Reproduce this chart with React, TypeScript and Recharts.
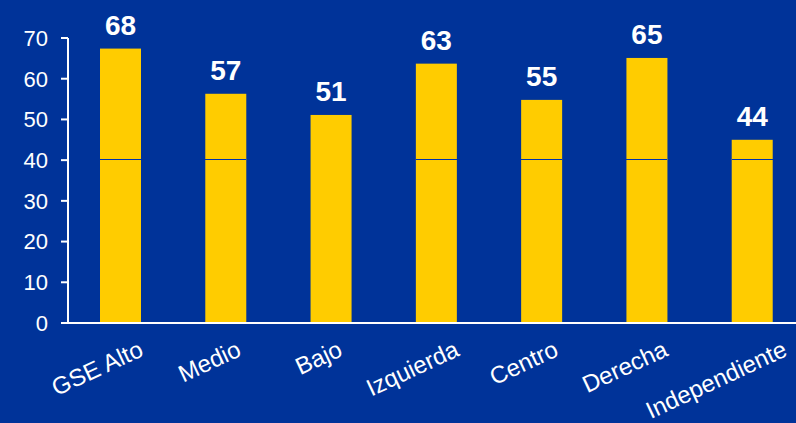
import React from 'react';
import { BarChart, Bar, XAxis, YAxis, LabelList } from 'recharts';

const categories = ['GSE Alto', 'Medio', 'Bajo', 'Izquierda', 'Centro', 'Derecha', 'Independiente'];
const values = [67.4, 56.3, 51.1, 63.7, 54.8, 65.1, 45.0];
const valueLabels = [68, 57, 51, 63, 55, 65, 44];
const hasDivider = [true, true, false, true, true, true, true];
const dividerAt = 40.4;
const yTicks = [0, 10, 20, 30, 40, 50, 60, 70];

const BG = '#003399';
const DIVIDER = '#0033AA';
const YELLOW = '#FFCC00';
const FONT = '"Liberation Sans", Arial, sans-serif';

const data = categories.map((name, i) => ({
  name,
  value: values[i],
  label: valueLabels[i],
  split: hasDivider[i],
}));

let ctx: CanvasRenderingContext2D | null = null;
function textWidth(s: string, size: number) {
  if (!ctx) ctx = document.createElement('canvas').getContext('2d');
  if (!ctx) return s.length * size * 0.5;
  ctx.font = `${size}px ${FONT}`;
  return ctx.measureText(s).width;
}

const ANGLE = 25;
const LABEL_SIZE = 24;

function XTick(props: any) {
  const { x, y, payload } = props;
  const label = String(payload.value);
  const w = textWidth(label, LABEL_SIZE);
  const ex = Math.min(x + (w * Math.cos((ANGLE * Math.PI) / 180) + 7) / 4, 789);
  const ey = y + 32;
  return (
    <text
      x={ex}
      y={ey}
      textAnchor="end"
      fill="#fff"
      fontSize={LABEL_SIZE}
      fontFamily={FONT}
      transform={`rotate(-${ANGLE}, ${ex}, ${ey})`}
    >
      {label}
    </text>
  );
}

function SplitBar(props: any) {
  const { x, y, width, height, payload } = props;
  const lineY = Math.round(y + height - (height * dividerAt) / payload.value);
  return (
    <g>
      <rect x={x} y={y} width={width} height={height} fill={YELLOW} />
      {payload.split && (
        <rect x={x} y={lineY} width={width} height={1} fill={DIVIDER} shapeRendering="crispEdges" />
      )}
    </g>
  );
}

export default function App() {
  return (
    <div style={{ position: 'fixed', left: 0, top: 0, width: 796, height: 423, overflow: 'hidden', background: BG }}>
      <BarChart
        width={805}
        height={423}
        data={data}
        margin={{ top: 38, right: 0, bottom: 0, left: 0 }}
        barSize={41}
      >
        <YAxis
          width={68}
          domain={[0, 70]}
          ticks={yTicks}
          interval={0}
          tickSize={7}
          tickMargin={13}
          axisLine={{ stroke: '#fff', strokeWidth: 2 }}
          tickLine={{ stroke: '#fff', strokeWidth: 2 }}
          tick={{ fill: '#fff', fontSize: 22, fontFamily: FONT }}
        />
        <XAxis
          dataKey="name"
          height={100}
          interval={0}
          tickLine={false}
          tickSize={0}
          tickMargin={0}
          axisLine={{ stroke: '#fff', strokeWidth: 2 }}
          tick={<XTick />}
        />
        <Bar dataKey="value" fill={YELLOW} shape={<SplitBar />} isAnimationActive={false}>
          <LabelList
            dataKey="label"
            position="top"
            offset={14}
            fill="#fff"
            fontSize={28}
            fontWeight="bold"
            fontFamily={FONT}
          />
        </Bar>
      </BarChart>
    </div>
  );
}
